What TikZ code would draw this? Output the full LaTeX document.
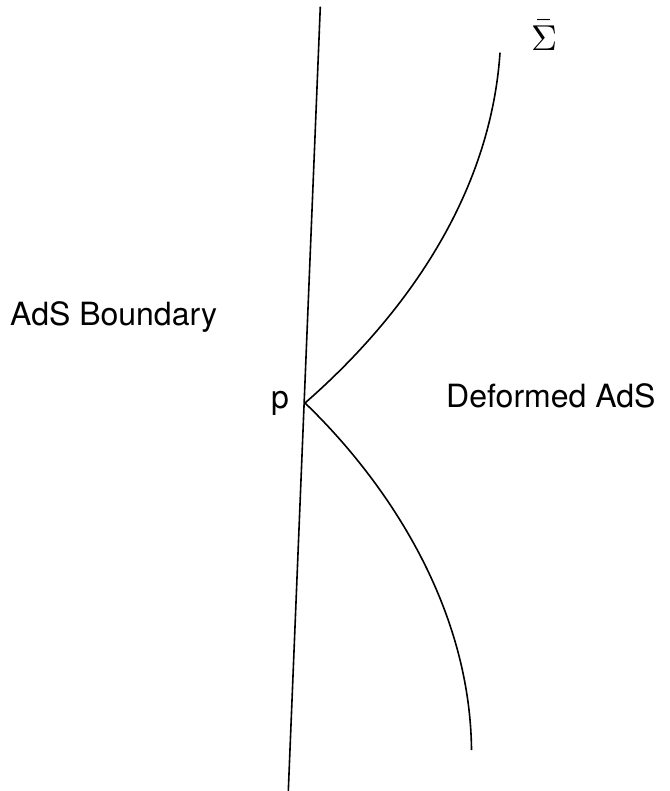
\documentclass[tikz,border=0pt]{standalone}
\usepackage{unicode-math}
\setmainfont{TeX Gyre Heros}
\setmathfont{Latin Modern Math}
\begin{document}
\begin{tikzpicture}[x=1pt,y=-1pt,
  curve/.style={line width=1.6pt,black},
  lbl/.style={inner sep=0pt,anchor=base west,font=\fontsize{32}{38}\selectfont}]
\useasboundingbox (0,0) rectangle (669,791);
\coordinate (top) at (320.3,6.7);
\coordinate (bot) at (288.3,791);
\coordinate (p) at (305,403);
\coordinate (uend) at (500,52.7);
\coordinate (lend) at (471.5,750);
\draw[curve] (top) -- (bot);
\draw[curve] (p) .. controls (400,320) and (490,200) .. (uend);
\draw[curve] (p) .. controls (380,475) and (470,600) .. (lend);
\node[lbl] (pl) at (271,408) {p};
\node[lbl] (bd) at (10,325) {AdS Boundary};
\node[lbl] (def) at (446,407) {Deformed AdS};
\node[inner sep=0pt,anchor=base west,font=\fontsize{36}{42}\selectfont] (sig) at (531,51) {$\bar{\Sigma}$};
\end{tikzpicture}
\end{document}
